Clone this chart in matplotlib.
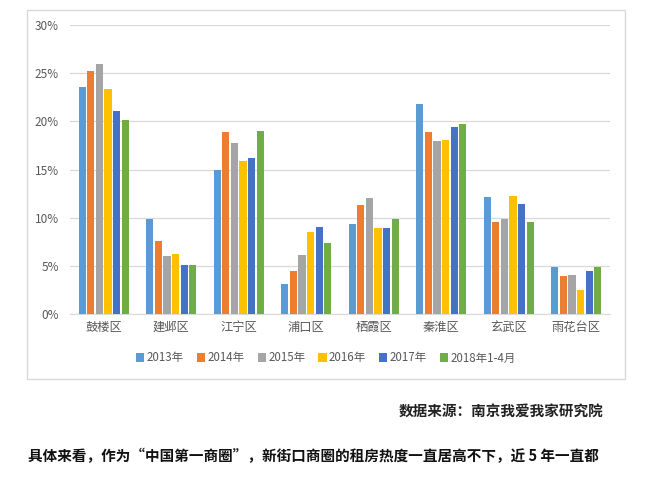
import matplotlib
matplotlib.use("Agg")
import matplotlib.pyplot as plt
from matplotlib.patches import Rectangle
from matplotlib.ticker import FuncFormatter
import numpy as np

plt.rcParams['font.family'] = ['Noto Sans CJK SC', 'DejaVu Sans']

districts = ["鼓楼区", "建邺区", "江宁区", "浦口区", "栖霞区", "秦淮区", "玄武区", "雨花台区"]
series_names = ["2013年", "2014年", "2015年", "2016年", "2017年", "2018年1-4月"]
v2013 = [23.6, 9.9, 14.9, 3.1, 9.3, 21.8, 12.1, 4.9]
v2014 = [25.2, 7.6, 18.9, 4.5, 11.3, 18.9, 9.55, 3.9]
v2015 = [25.9, 6.0, 17.7, 6.1, 12.0, 18.0, 9.9, 4.0]
v2016 = [23.4, 6.2, 15.9, 8.5, 8.9, 18.1, 12.2, 2.5]
v2017 = [21.1, 5.05, 16.2, 9.0, 8.9, 19.4, 11.4, 4.5]
v2018 = [20.1, 5.05, 19.0, 7.4, 9.9, 19.7, 9.5, 4.9]
series = [v2013, v2014, v2015, v2016, v2017, v2018]
colors = ["#5B9BD5", "#ED7D31", "#A5A5A5", "#FFC000", "#4472C4", "#70AD47"]
yticks = [0, 5, 10, 15, 20, 25, 30]

fig = plt.figure(figsize=(6.5, 4.9), dpi=100)
fig.patch.set_facecolor("white")

# outer chart frame
fig.patches.append(Rectangle((27/650, 1-379/490), 598/650, 369/490, transform=fig.transFigure,
                             fill=False, edgecolor="#d9d9d9", linewidth=1.0, zorder=0))

ax = fig.add_axes([70/650, 1-314/490, 540/650, 289/490])
x = np.arange(len(districts))
slot = 0.128
bw = 0.108
for i, (vals, c, name) in enumerate(zip(series, colors, series_names)):
    ax.bar(x + (i - 2.5) * slot, vals, width=bw, color=c, label=name, zorder=3)

ax.set_xlim(-0.5, len(districts) - 0.5)
ax.set_ylim(0, 30)
ax.set_yticks(yticks)
ax.yaxis.set_major_formatter(FuncFormatter(lambda v, p: f"{int(v)}%"))
ax.grid(axis="y", color="#d9d9d9", linewidth=0.9, zorder=0)
for s in ["top", "right", "left"]:
    ax.spines[s].set_visible(False)
ax.spines["bottom"].set_color("#d9d9d9")
ax.tick_params(axis="both", length=0, colors="#595959")
ax.tick_params(axis="y", labelsize=8.5, pad=8)
ax.set_xticks(x)
ax.set_xticklabels(districts, fontsize=8.8, color="#595959")
ax.tick_params(axis="x", pad=5)

leg = fig.legend(loc="center", bbox_to_anchor=(326/650, 1-358/490), ncol=6, frameon=False,
                 fontsize=8.3, handlelength=0.7, handleheight=0.7, handletextpad=0.2,
                 columnspacing=1.15, labelcolor="#595959")

fig.text(603/650, 1-411/490, "数据来源：南京我爱我家研究院", ha="right", va="center",
         fontsize=10.5, fontweight="bold", color="#222222")
fig.text(28/650, 1-456/490, "具体来看，作为“中国第一商圈”，新街口商圈的租房热度一直居高不下，近 5 年一直都",
         ha="left", va="center", fontsize=10.5, fontweight="bold", color="#111111")

fig.savefig("out.png", dpi=100, facecolor="white")
